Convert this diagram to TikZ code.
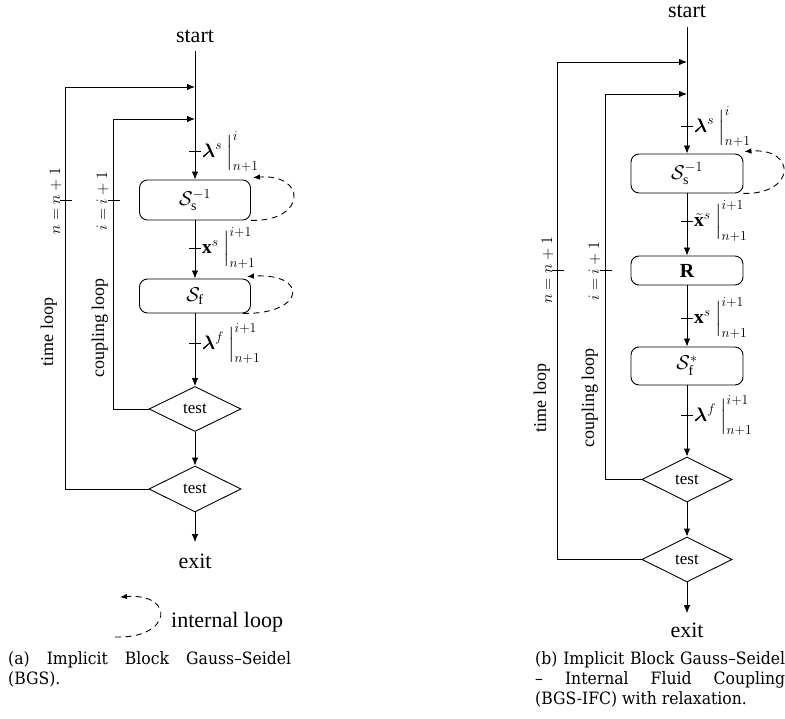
\RequirePackage{fix-cm}
\documentclass[tikz,border=0pt]{standalone}
\usepackage{amsmath,amssymb}
\usepackage{fontspec}
\setmainfont{Liberation Serif}
\newfontfamily\capfont[FakeStretch=0.92]{DejaVu Serif}
\usetikzlibrary{arrows.meta,shapes.geometric}
\DeclareMathSizes{19.5}{19.5}{13.7}{9.8}
\DeclareMathSizes{20}{20}{14}{10}
\DeclareMathSizes{16}{16}{11.2}{8}

\tikzset{
 ln/.style={line width=0.9pt},
 arr/.style={ln,-{Latex[length=8pt,width=6.5pt]}},
 dloop/.style={ln,dash pattern=on 6pt off 4.5pt,-{Latex[length=7pt,width=5.5pt]}},
 term/.style={font=\fontsize{22}{26}\selectfont,inner sep=0pt,anchor=base},
 blk/.style={draw,ln,rounded corners=8pt,minimum width=111pt,inner sep=0pt,font=\fontsize{20}{24}\selectfont},
 dia/.style={draw,ln,diamond,inner sep=0pt,minimum width=92pt,minimum height=45pt,font=\fontsize{17}{20}\selectfont},
 lab/.style={anchor=base west,inner sep=0pt,font=\fontsize{19.5}{23}\selectfont},
 rlab/.style={rotate=90,anchor=base,inner sep=0pt,font=\fontsize{16}{19}\selectfont},
 llab/.style={rotate=90,anchor=base,inner sep=0pt,font=\fontsize{18}{21}\selectfont},
 captext/.style={anchor=north west,inner sep=0pt,align=left,font=\capfont\fontsize{17}{20}\selectfont},
 tickln/.style={ln},
}

\begin{document}
\begin{tikzpicture}[x=1pt,y=-1pt]
\useasboundingbox (0,0) rectangle (785,719);

% ================= Left diagram (a) =================
\node[term] (startA) at (195,43) {start};
\coordinate (tjA) at (195,87);
\coordinate (cjA) at (195,119);
\node[blk,minimum height=40pt] (s1A) at (195,200) {$\mathcal{S}_\mathrm{s}^{-1}$};
\node[blk,minimum height=34pt] (sfA) at (195,296) {$\mathcal{S}_\mathrm{f}$};
\node[dia] (t1A) at (195,409) {test};
\node[dia,minimum height=46pt] (t2A) at (195,489) {test};
\node[term] (exitA) at (195,568) {exit};

\draw[arr,shorten <=8pt] (startA.south) -- (s1A.north);
\draw[arr] (s1A.south) -- (sfA.north);
\draw[arr] (sfA.south) -- (t1A.north);
\draw[arr] (t1A.south) -- (t2A.north);
\draw[arr,shorten >=11pt] (t2A.south) -- (exitA.north);

\draw[arr] (t1A.west) -- ++(-35,0) |- (cjA);
\draw[arr] (t2A.west) -- ++(-83,0) |- (tjA);

\draw[tickln] (189,151) -- (201,151);
\draw[tickln] (189,248) -- (201,248);
\draw[tickln] (189,343) -- (201,343);
\node[lab] (l1A) at (202,157.5) {$\boldsymbol{\lambda}^s\mkern4mu\Big|^{i}_{n+1}$};
\node[lab] (l2A) at (202,254) {$\mathbf{x}^s\mkern4mu\Big|^{i+1}_{n+1}$};
\node[lab] (l3A) at (202,349.5) {$\boldsymbol{\lambda}^f\mkern4mu\Big|^{i+1}_{n+1}$};

\draw[dloop] (s1A.south east) .. controls +(56,1) and +(54,-4) .. ([xshift=2pt,yshift=2pt]s1A.north east);
\draw[dloop] ([xshift=-8pt]sfA.south east) .. controls +(63,1) and +(62,-4) .. ([xshift=-4pt,yshift=2pt]sfA.north east);

\draw[tickln] (60,200) -- (72,200);
\draw[tickln] (108,200) -- (120,200);
\node[rlab] (nA) at (60,201) {$n=n+1$};
\node[rlab] (iA) at (107,201) {$i=i+1$};
\node[llab] (tlA) at (53,332) {time loop};
\node[llab] (clA) at (104,328) {coupling loop};

% legend
\coordinate (lgS) at (115,637);
\coordinate (lgE) at (120,597);
\draw[dloop] (lgS) .. controls +(57,2) and +(56,-4) .. (lgE);
\node[term,anchor=base west] (lgT) at (171,627) {internal loop};

\node[captext] (capA) at (8,651) {\makebox[283pt][s]{(a) Implicit Block Gauss–Seidel}\\(BGS).};

% ================= Right diagram (b) =================
\node[term] (startB) at (687,17.5) {start};
\coordinate (tjB) at (687,62);
\coordinate (cjB) at (687,94);
\node[blk,minimum width=112pt,minimum height=39pt] (s1B) at (687,173.5) {$\mathcal{S}_\mathrm{s}^{-1}$};
\node[blk,minimum width=112pt,minimum height=29pt] (RB) at (687,270.5) {$\mathbf{R}$};
\node[blk,minimum width=112pt,minimum height=38pt] (sfB) at (687,366) {$\mathcal{S}_\mathrm{f}^{*}$};
\node[dia,minimum width=90pt] (t1B) at (687,479.5) {test};
\node[dia,minimum width=90pt] (t2B) at (687,559.5) {test};
\node[term] (exitB) at (687,637.5) {exit};

\draw[arr,shorten <=9.5pt] (startB.south) -- (s1B.north);
\draw[arr] (s1B.south) -- (RB.north);
\draw[arr] (RB.south) -- (sfB.north);
\draw[arr] (sfB.south) -- (t1B.north);
\draw[arr] (t1B.south) -- (t2B.north);
\draw[arr,shorten >=9.5pt] (t2B.south) -- (exitB.north);

\draw[arr] (t1B.west) -- ++(-36,0) |- (cjB);
\draw[arr] (t2B.west) -- ++(-84,0) |- (tjB);

\draw[tickln] (681,126) -- (693,126);
\draw[tickln] (681,221) -- (693,221);
\draw[tickln] (681,318) -- (693,318);
\draw[tickln] (681,415) -- (693,415);
\node[lab] (l1B) at (694,132.5) {$\boldsymbol{\lambda}^s\mkern4mu\Big|^{i}_{n+1}$};
\node[lab] (l2B) at (694,227) {$\tilde{\mathbf{x}}^s\mkern4mu\Big|^{i+1}_{n+1}$};
\node[lab] (l3B) at (694,324) {$\mathbf{x}^s\mkern4mu\Big|^{i+1}_{n+1}$};
\node[lab] (l4B) at (694,421.5) {$\boldsymbol{\lambda}^f\mkern4mu\Big|^{i+1}_{n+1}$};

\draw[dloop] (s1B.south east) .. controls +(53,1) and +(52,-4) .. ([xshift=1pt,yshift=2pt]s1B.north east);

\draw[tickln] (552,270) -- (564,270);
\draw[tickln] (600,270) -- (612,270);
\node[rlab] (nB) at (552,270.5) {$n=n+1$};
\node[rlab] (iB) at (599,271) {$i=i+1$};
\node[llab] (tlB) at (546,398) {time loop};
\node[llab] (clB) at (594,398) {coupling loop};

\node[captext] (capB) at (535,651) {\makebox[250pt][s]{(b) Implicit Block Gauss–Seidel}\\\makebox[250pt][s]{– Internal Fluid Coupling}\\(BGS-IFC) with relaxation.};
\end{tikzpicture}
\end{document}
